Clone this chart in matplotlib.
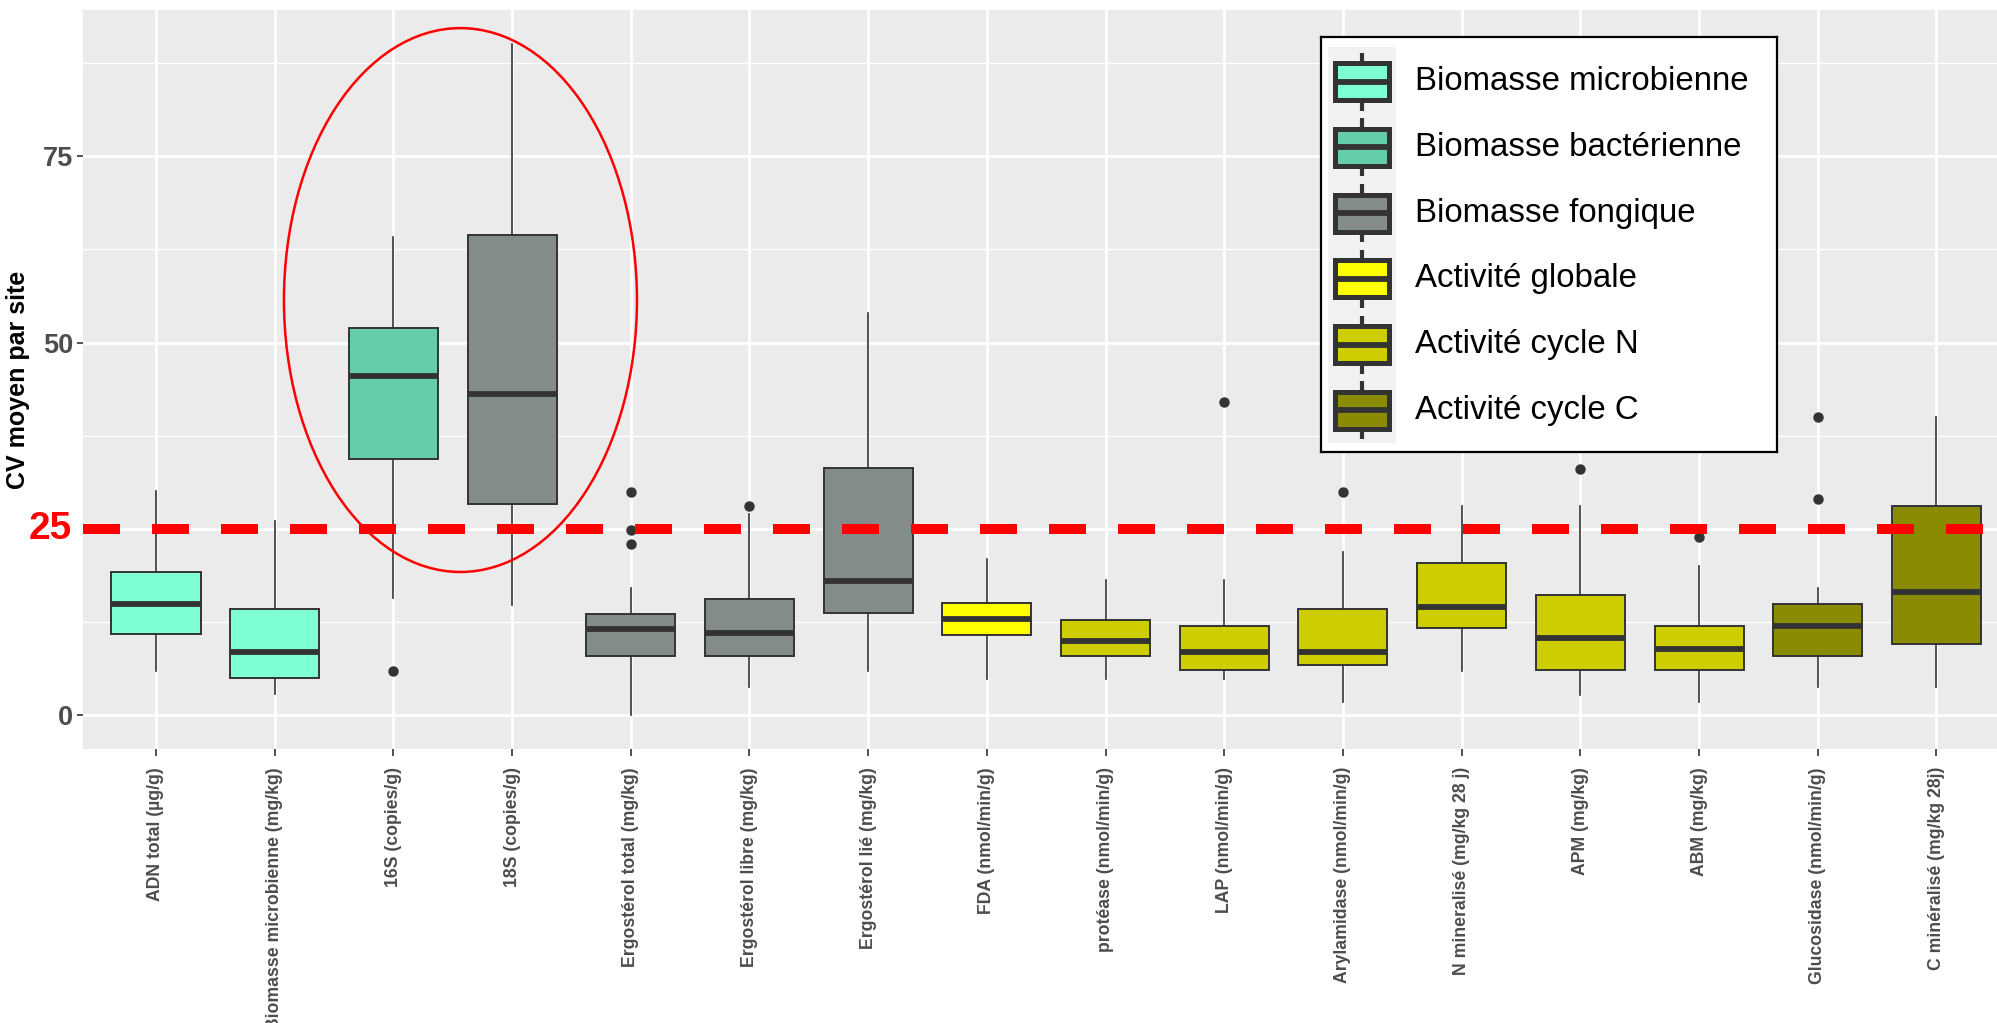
import matplotlib
matplotlib.use("Agg")
import matplotlib.pyplot as plt
from matplotlib.patches import Ellipse, Rectangle
from matplotlib.transforms import blended_transform_factory

plt.rcParams["font.family"] = ["Liberation Sans", "DejaVu Sans"]

# one box per variable
labels = ["ADN total (µg/g)", "Biomasse microbienne (mg/kg)", "16S (copies/g)",
          "18S (copies/g)", "Ergostérol total (mg/kg)", "Ergostérol libre (mg/kg)",
          "Ergostérol lié (mg/kg)", "FDA (nmol/min/g)", "protéase (nmol/min/g)",
          "LAP (nmol/min/g)", "Arylamidase (nmol/min/g)", "N mineralisé (mg/kg 28 j)",
          "APM (mg/kg)", "ABM (mg/kg)", "Glucosidase (nmol/min/g)",
          "C minéralisé (mg/kg 28j)"]
groups = ["Biomasse microbienne", "Biomasse microbienne", "Biomasse bactérienne",
          "Biomasse fongique", "Biomasse fongique", "Biomasse fongique",
          "Biomasse fongique", "Activité globale", "Activité cycle N",
          "Activité cycle N", "Activité cycle N", "Activité cycle N",
          "Activité cycle N", "Activité cycle N", "Activité cycle C",
          "Activité cycle C"]
whislo = [5.85, 2.8, 15.7, 14.8, 0.0, 3.7, 5.85, 4.9, 4.9, 4.9, 1.8, 5.85, 2.7, 1.8, 3.7, 3.7]
q1 = [10.9, 5.0, 34.4, 28.3, 7.9, 7.9, 13.7, 10.7, 7.9, 6.0, 6.7, 11.65, 6.0, 6.0, 7.9, 9.6]
med = [14.9, 8.4, 45.5, 43.1, 11.5, 11.0, 18.0, 12.95, 9.9, 8.4, 8.4, 14.45, 10.4, 8.9, 12.0, 16.5]
q3 = [19.2, 14.2, 51.9, 64.4, 13.6, 15.6, 33.2, 15.1, 12.75, 12.0, 14.2, 20.4, 16.1, 12.0, 14.9, 28.1]
whishi = [30.1, 26.0, 64.1, 90.0, 17.05, 27.0, 53.9, 20.95, 18.1, 18.1, 21.9, 28.0, 28.0, 20.0, 17.05, 40.0]
fliers = [[], [], [5.85], [], [29.9, 24.9, 22.9], [28.0], [], [], [], [41.96],
          [29.9], [], [33.06], [23.9], [40.0, 28.95], []]

group_names = ["Biomasse microbienne", "Biomasse bactérienne", "Biomasse fongique",
               "Activité globale", "Activité cycle N", "Activité cycle C"]
group_colors = ["#7FFFD4", "#66CDAA", "#838B8B", "#FFFF00", "#CDCD00", "#8B8B00"]

threshold = 25
y_ticks = [0, 50, 75]

W, H = 1997, 1023
fig = plt.figure(figsize=(W / 100, H / 100), dpi=100)
ax = fig.add_axes([83 / W, (H - 749) / H, (W - 83) / W, 739 / H])
ax.set_facecolor("#EBEBEB")
for s in ax.spines.values():
    s.set_visible(False)

positions = list(range(1, len(labels) + 1))
stats = []
for i in range(len(labels)):
    stats.append(dict(whislo=whislo[i], q1=q1[i], med=med[i], q3=q3[i],
                      whishi=whishi[i], fliers=fliers[i], label=labels[i]))

bp = ax.bxp(stats, positions=positions, widths=0.75, patch_artist=True,
            showcaps=False,
            boxprops=dict(edgecolor="#333333", linewidth=1.4),
            medianprops=dict(color="#333333", linewidth=4.2, solid_capstyle="butt"),
            whiskerprops=dict(color="#333333", linewidth=1.2),
            flierprops=dict(marker="o", markersize=6.5, markerfacecolor="#333333",
                            markeredgecolor="#333333"),
            zorder=3)
color_of = dict(zip(group_names, group_colors))
for patch, g in zip(bp["boxes"], groups):
    patch.set_facecolor(color_of[g])

ax.set_xlim(0.385, 16.51)
ax.set_ylim(-4.56, 94.63)

# ggplot style grid
ax.set_yticks(y_ticks + [threshold])
ax.set_yticks([12.5, 37.5, 62.5, 87.5], minor=True)
ax.grid(True, which="major", color="white", linewidth=2.0, zorder=0)
ax.grid(True, which="minor", axis="y", color="white", linewidth=1.0, zorder=0)
ax.set_axisbelow(True)
ax.set_yticklabels([str(v) for v in y_ticks] + [""])
ax.tick_params(axis="y", which="major", length=4, width=1.2, color="#333333",
               labelsize=19.5, labelcolor="#4D4D4D", pad=3)
ax.tick_params(axis="y", which="minor", length=0)
ax.yaxis.get_major_ticks()[-1].tick1line.set_visible(False)
for t in ax.get_yticklabels():
    t.set_fontweight("bold")

ax.set_xticks(positions)
ax.set_xticklabels(labels, rotation=90, ha="center", va="top", fontsize=12.7,
                   fontweight="bold", color="#4D4D4D")
ax.tick_params(axis="x", length=5, width=1.2, color="#333333", pad=8)

fig.text(18 / W, 1 - 380 / H, "CV moyen par site", rotation=90, ha="center",
         va="center", fontsize=18, fontweight="bold", color="black")

# threshold line and its label
ax.axhline(threshold, color="#FF0000", linewidth=7.2, dashes=(3.7, 3.2), zorder=4)
trans = blended_transform_factory(ax.transAxes, ax.transData)
ax.text(-0.006, threshold, str(threshold), transform=trans, ha="right", va="center",
        fontsize=28, fontweight="bold", color="#FF0000", clip_on=False)

# highlight of the 16S / 18S boxes
ax.add_patch(Ellipse((3.565, 55.7), 2.974, 73.0, fill=False, edgecolor="#FF0000",
                     linewidth=1.8, zorder=5))

# legend drawn in its own pixel-based axes
lx, ly, lw_, lh = 1321, 37, 456, 415
lax = fig.add_axes([lx / W, 1 - (ly + lh) / H, lw_ / W, lh / H])
lax.set_xlim(0, lw_)
lax.set_ylim(lh, 0)
lax.set_xticks([])
lax.set_yticks([])
lax.set_facecolor("white")
for s in lax.spines.values():
    s.set_linewidth(1.6)
    s.set_color("black")
lax.add_patch(Rectangle((7, 10), 68, 396, facecolor="#F2F2F2", edgecolor="none"))
key_x, key_y0, key_step = 41, 44.7, 65.7
for k, (name, col) in enumerate(zip(group_names, group_colors)):
    cy = key_y0 + k * key_step
    lax.plot([key_x, key_x], [cy - 29, cy + 29], color="#333333", linewidth=3,
             solid_capstyle="butt", zorder=2)
    lax.add_patch(Rectangle((key_x - 27, cy - 18.5), 54, 37, facecolor=col,
                            edgecolor="#333333", linewidth=3.6, zorder=3))
    lax.plot([key_x - 27, key_x + 27], [cy, cy], color="#333333", linewidth=4.2,
             solid_capstyle="butt", zorder=4)
    lax.text(94, cy, name, ha="left", va="center", fontsize=23.8, color="black")

fig.savefig("out.png", dpi=100)
